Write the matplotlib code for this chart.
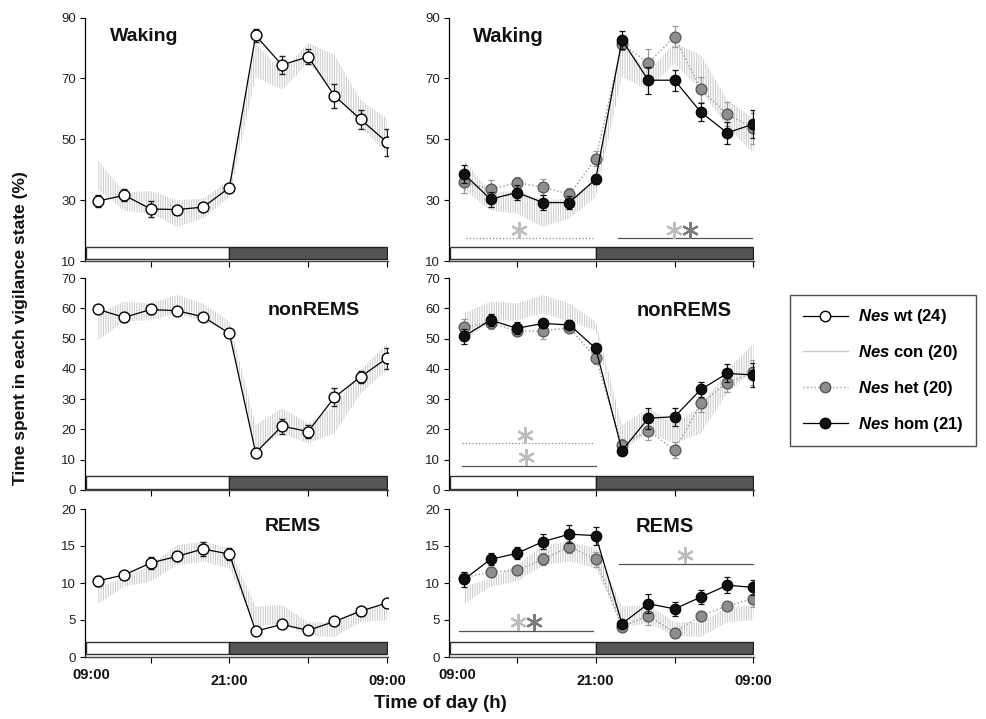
import matplotlib
matplotlib.use('Agg')
import matplotlib.pyplot as plt
from matplotlib.patches import Rectangle
from matplotlib.lines import Line2D
from matplotlib import font_manager

plt.rcParams['font.family'] = 'sans-serif'
plt.rcParams['font.sans-serif'] = ['Liberation Sans', 'DejaVu Sans']
plt.rcParams['mathtext.fontset'] = 'custom'
plt.rcParams['mathtext.bfit'] = 'sans:italic:bold'
plt.rcParams['mathtext.it'] = 'sans:italic'
plt.rcParams['mathtext.bf'] = 'sans:bold'
plt.rcParams['mathtext.rm'] = 'sans'
plt.rcParams['hatch.linewidth'] = 0.7
plt.rcParams['hatch.color'] = '#cacaca'

try:
    font_manager.findfont(font_manager.FontProperties(family='Liberation Sans Narrow', weight='bold'),
                          fallback_to_default=False)
    NARROW = 'Liberation Sans Narrow'
except Exception:
    NARROW = 'Liberation Sans'

# ---------------- data ----------------
bins = [1, 2, 3, 4, 5, 6, 7, 8, 9, 10, 11, 12]
xtick_pos = [3, 6, 9, 12]
xtick_labels = ['', '21:00', '', '09:00']
first_label = '09:00'

# Waking
wake_wt = [29.7, 31.6, 27.1, 26.9, 27.7, 34.1, 84.1, 74.4, 77.1, 64.3, 56.5, 49.0]
wake_wt_err = [2.0, 2.0, 2.5, 1.0, 1.0, 1.0, 2.0, 3.0, 2.5, 4.0, 3.0, 4.5]
wake_con_lo = [33.5, 26.5, 25.6, 21.2, 24.0, 31.0, 70.5, 66.2, 75.0, 66.0, 54.1, 45.3]
wake_con_hi = [43.0, 32.5, 33.0, 30.0, 30.5, 36.5, 81.5, 72.2, 81.7, 77.7, 62.9, 56.8]
wake_het = [36.0, 33.5, 35.7, 34.3, 31.9, 43.6, 81.3, 75.1, 83.7, 66.4, 58.2, 53.6]
wake_het_err = [3.5, 3.0, 2.0, 2.5, 2.0, 2.5, 2.0, 4.5, 3.5, 4.0, 4.0, 5.0]
wake_hom = [38.5, 30.3, 32.5, 29.2, 29.2, 36.9, 82.6, 69.4, 69.4, 58.9, 52.1, 55.0]
wake_hom_err = [3.0, 2.5, 2.5, 2.5, 2.0, 1.5, 3.0, 4.5, 3.5, 3.0, 3.5, 4.5]

# nonREMS
nrem_wt = [59.6, 57.0, 59.6, 59.2, 57.2, 51.7, 12.3, 21.1, 19.3, 30.6, 37.4, 43.5]
nrem_wt_err = [1.0, 1.5, 1.5, 1.0, 1.0, 1.0, 1.5, 2.5, 2.0, 3.0, 2.0, 3.5]
nrem_con_lo = [49.5, 55.6, 56.1, 58.3, 55.6, 52.8, 13.2, 18.7, 15.4, 18.7, 31.9, 39.6]
nrem_con_hi = [58.3, 62.2, 61.6, 64.4, 61.6, 55.6, 21.5, 27.0, 22.0, 27.5, 39.6, 48.4]
nrem_het = [53.9, 55.2, 52.5, 52.5, 53.6, 43.5, 14.9, 19.6, 13.2, 28.6, 35.4, 38.8]
nrem_het_err = [2.5, 2.0, 1.5, 2.5, 1.5, 2.0, 2.0, 3.0, 2.5, 3.0, 3.0, 4.0]
nrem_hom = [50.8, 56.1, 53.4, 55.0, 54.5, 46.8, 13.0, 23.7, 24.2, 33.2, 38.5, 38.0]
nrem_hom_err = [2.5, 2.0, 2.0, 1.5, 1.5, 1.5, 1.0, 3.5, 3.0, 2.5, 3.0, 4.0]

# REMS
rem_wt = [10.3, 11.1, 12.7, 13.6, 14.6, 13.9, 3.5, 4.4, 3.6, 4.8, 6.2, 7.3]
rem_wt_err = [0.7, 0.5, 0.8, 0.6, 1.0, 0.8, 0.3, 0.4, 0.4, 0.4, 0.5, 0.4]
rem_con_lo = [7.2, 9.5, 10.2, 12.4, 12.9, 12.0, 4.1, 4.5, 2.9, 2.7, 4.7, 5.0]
rem_con_hi = [9.5, 10.6, 12.4, 15.1, 15.6, 14.7, 6.8, 7.0, 4.7, 4.7, 6.6, 7.0]
rem_het = [10.7, 11.5, 11.7, 13.2, 14.9, 13.2, 4.1, 5.6, 3.3, 5.6, 6.9, 7.9]
rem_het_err = [0.8, 0.6, 0.6, 0.8, 0.8, 1.0, 0.5, 1.3, 0.5, 0.6, 0.6, 1.1]
rem_hom = [10.5, 13.2, 14.0, 15.6, 16.6, 16.4, 4.5, 7.2, 6.5, 8.1, 9.7, 9.4]
rem_hom_err = [1.0, 0.8, 0.8, 1.0, 1.2, 1.2, 0.5, 1.3, 1.0, 0.9, 1.1, 1.0]

# significance bars: (x_start, x_end, y, linestyle)
wake_sig_lines = [(1.08, 5.89, 17.7, ':'), (6.84, 11.93, 17.7, '-')]
wake_sig_stars = [(3.07, 20.1, 'light'), (8.97, 20.1, 'light'), (9.58, 20.1, 'dark')]
nrem_sig_lines = [(0.9, 5.89, 15.4, ':'), (0.9, 6.0, 8.0, '-')]
nrem_sig_stars = [(3.3, 18.2, 'light'), (3.35, 11.0, 'light')]
rem_sig_lines = [(0.8, 5.89, 3.5, '-'), (6.87, 11.98, 12.6, '-')]
rem_sig_stars = [(3.03, 4.7, 'light'), (3.64, 4.7, 'dark'), (9.4, 13.8, 'light')]

titles = ['Waking', 'nonREMS', 'REMS']
ylims = [(10, 90), (0, 70), (0, 20)]
yticks = [[10, 30, 50, 70, 90], [0, 10, 20, 30, 40, 50, 60, 70], [0, 5, 10, 15, 20]]
bars_y = [(10.7, 14.5), (0.3, 4.6), (0.4, 2.0)]
title_pos_left = [(1.47, 83.6), (7.45, 59.4), (7.35, 17.6)]
title_pos_right = [(1.32, 83.6), (7.56, 59.4), (7.5, 17.6)]

legend_labels = [r'$\mathbfit{Nes}$ wt (24)', r'$\mathbfit{Nes}$ con (20)',
                 r'$\mathbfit{Nes}$ het (20)', r'$\mathbfit{Nes}$ hom (21)']

# ---------------- figure ----------------
W, H = 986, 719
fig = plt.figure(figsize=(W / 100, H / 100), dpi=100)

rows_px = [(17.5, 261), (278, 490), (509, 657)]
left_px = (85, 388)
right_px = (449, 754)

def make_ax(xpx, ypx):
    return fig.add_axes([xpx[0] / W, 1 - ypx[1] / H, (xpx[1] - xpx[0]) / W, (ypx[1] - ypx[0]) / H])

CON_C = '#c8c8c8'
HET_FC = '#8e8e8e'
HET_EC = '#555555'
LIGHT_STAR = '#bdbdbd'
DARK_STAR = '#7a7a7a'

def style(ax, r, xlim, bottom):
    ax.set_xlim(*xlim)
    ax.set_ylim(*ylims[r])
    ax.set_yticks(yticks[r])
    ax.set_yticklabels([str(v) for v in yticks[r]], fontsize=9.5, color='#222222')
    for s in ['top', 'right']:
        ax.spines[s].set_visible(False)
    ax.spines['left'].set_linewidth(0.9)
    ax.spines['bottom'].set_linewidth(1.0)
    ax.spines['bottom'].set_color('#444444')
    ax.tick_params(axis='y', direction='out', length=3.5, width=0.8, pad=3)
    ax.tick_params(axis='x', which='major', direction='out', length=4, width=0.8, pad=8)
    ax.tick_params(axis='x', which='minor', length=0, pad=8)
    ax.set_xticks(xtick_pos)
    ax.set_xticks([0.72], minor=True)
    if bottom:
        ax.set_xticklabels(xtick_labels, fontsize=10.5, fontweight='bold', family=NARROW, color='#111111')
        ax.set_xticklabels([first_label], minor=True, fontsize=10.5, fontweight='bold', family=NARROW, color='#111111')
    else:
        ax.set_xticklabels([])
        ax.set_xticklabels([], minor=True)
    y0, y1 = bars_y[r]
    ax.add_patch(Rectangle((xlim[0] + 0.02, y0), 6 - xlim[0] - 0.02, y1 - y0, fc='white', ec='#333333', lw=1.0, zorder=2))
    ax.add_patch(Rectangle((6, y0), 12.0 - 6, y1 - y0, fc='#555555', ec='#222222', lw=1.0, zorder=2))

def band(ax, lo, hi):
    ax.fill_between(bins, lo, hi, facecolor='none', edgecolor=CON_C, hatch='|||||||', linewidth=0, zorder=1)

def sig(ax, lines, stars):
    for x0, x1, y, ls in lines:
        ax.plot([x0, x1], [y, y], ls=ls, color='#555555' if ls == '-' else '#888888', lw=0.9, zorder=2)
    for x, y, tone in stars:
        ax.plot([x], [y], marker=(6, 2, 0), ms=12, mew=1.6,
                color=LIGHT_STAR if tone == 'light' else DARK_STAR, zorder=3)

wt_data = [(wake_wt, wake_wt_err), (nrem_wt, nrem_wt_err), (rem_wt, rem_wt_err)]
con_data = [(wake_con_lo, wake_con_hi), (nrem_con_lo, nrem_con_hi), (rem_con_lo, rem_con_hi)]
het_data = [(wake_het, wake_het_err), (nrem_het, nrem_het_err), (rem_het, rem_het_err)]
hom_data = [(wake_hom, wake_hom_err), (nrem_hom, nrem_hom_err), (rem_hom, rem_hom_err)]
sig_data = [(wake_sig_lines, wake_sig_stars), (nrem_sig_lines, nrem_sig_stars), (rem_sig_lines, rem_sig_stars)]

for r in range(3):
    bottom = (r == 2)
    # left column
    axl = make_ax(left_px, rows_px[r])
    style(axl, r, (0.5, 12.04), bottom)
    band(axl, *con_data[r])
    y, e = wt_data[r]
    axl.errorbar(bins, y, yerr=e, fmt='-o', color='black', lw=0.9, ms=7.8, mfc='white', mec='black',
                 mew=1.0, ecolor='#222222', elinewidth=0.9, capsize=2, capthick=0.9, zorder=4)
    axl.text(*title_pos_left[r], titles[r], fontsize=14, fontweight='bold', ha='left', va='center', color='#111111')

    # right column
    axr = make_ax(right_px, rows_px[r])
    style(axr, r, (0.42, 12.02), bottom)
    band(axr, *con_data[r])
    sig(axr, *sig_data[r])
    y, e = het_data[r]
    axr.errorbar(bins, y, yerr=e, fmt='o', ls=':', color='#999999', lw=1.0, ms=7.8, mfc=HET_FC, mec=HET_EC,
                 mew=0.9, ecolor='#999999', elinewidth=0.9, capsize=2, capthick=0.9, zorder=4)
    y, e = hom_data[r]
    axr.errorbar(bins, y, yerr=e, fmt='-o', color='black', lw=0.9, ms=7.5, mfc='#111111', mec='black',
                 mew=0.9, ecolor='#111111', elinewidth=0.9, capsize=2, capthick=0.9, zorder=5)
    axr.text(*title_pos_right[r], titles[r], fontsize=14.5, fontweight='bold', ha='left', va='center', color='#111111')

# axis labels
fig.text(21 / W, 1 - 328 / H, 'Time spent in each vigilance state (%)', rotation=90, ha='center', va='center',
         fontsize=12.5, fontweight='bold', color='#111111')
fig.text(440 / W, 1 - 703 / H, 'Time of day (h)', ha='center', va='center', fontsize=13.5,
         fontweight='bold', family=NARROW, color='#111111')

# legend
handles = [
    Line2D([], [], color='black', lw=0.9, marker='o', ms=7.5, mfc='white', mec='black'),
    Line2D([], [], color=CON_C, lw=1.0),
    Line2D([], [], color='#999999', lw=1.0, ls=':', marker='o', ms=7.5, mfc=HET_FC, mec=HET_EC),
    Line2D([], [], color='black', lw=0.9, marker='o', ms=7.5, mfc='#111111', mec='black'),
]
leg = fig.legend(handles, legend_labels, loc='upper left', bbox_to_anchor=(790 / W, 1 - 295 / H),
                 frameon=True, fancybox=False, edgecolor='#222222', handlelength=2.7, handletextpad=0.6,
                 borderpad=0.75, labelspacing=1.0, borderaxespad=0,
                 prop={'size': 12, 'weight': 'bold'})
leg.get_frame().set_linewidth(1.0)

fig.savefig('out.png', dpi=100)
